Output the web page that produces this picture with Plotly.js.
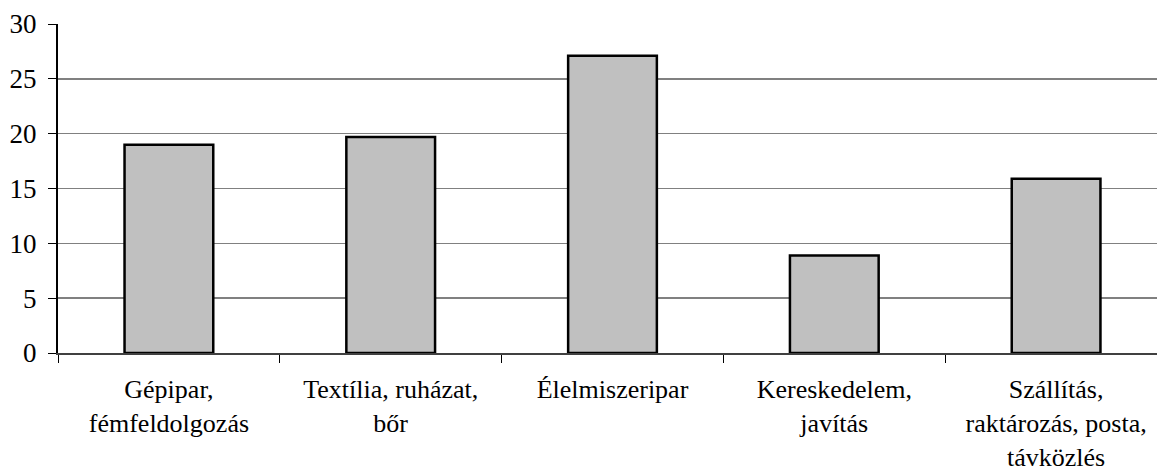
<!DOCTYPE html>
<html>
<head>
<meta charset="utf-8">
<script src="https://cdn.plot.ly/plotly-3.0.1.min.js"></script>
<style>
html, body { margin: 0; padding: 0; overflow: hidden; background: #fff; }
#chart { width: 1180px; height: 473px; }
</style>
</head>
<body>
<div id="chart"></div>
<script>
const categories = [
  "Gépipar,<br>fémfeldolgozás",
  "Textília, ruházat,<br>bőr",
  "Élelmiszeripar",
  "Kereskedelem,<br>javítás",
  "Szállítás,<br>raktározás, posta,<br>távközlés"
];
const values = [19.0, 19.7, 27.1, 8.9, 15.9];
const yTicks = [0, 5, 10, 15, 20, 25, 30];

const serif = "'Liberation Serif', 'Times New Roman', 'DejaVu Serif', serif";

const trace = {
  type: "bar",
  x: categories,
  y: values,
  marker: { color: "#c0c0c0", line: { color: "#000000", width: 2.5 } },
  hoverinfo: "x+y"
};

const layout = {
  width: 1180,
  height: 473,
  margin: { l: 58.3, r: 13.2, t: 23.5, b: 119.5, pad: 0 },
  paper_bgcolor: "#ffffff",
  plot_bgcolor: "#ffffff",
  bargap: 0.6,
  showlegend: false,
  font: { family: serif, color: "#000000", size: 26 },
  xaxis: {
    type: "category",
    showgrid: false,
    showline: true,
    linecolor: "#404040",
    linewidth: 2,
    ticks: "outside",
    tickson: "boundaries",
    ticklen: 8,
    tickwidth: 1,
    tickcolor: "#000000",
    tickfont: { size: 26, family: serif, color: "#000000" },
    ticklabelstandoff: 12,
    zeroline: false,
    fixedrange: true
  },
  yaxis: {
    range: [0, 30],
    tickvals: yTicks,
    ticktext: yTicks.map(String),
    showgrid: true,
    gridcolor: "#808080",
    gridwidth: 1.5,
    showline: true,
    linecolor: "#000000",
    linewidth: 2,
    ticks: "outside",
    ticklen: 8,
    tickwidth: 1,
    tickcolor: "#000000",
    tickfont: { size: 27, family: serif, color: "#000000" },
    ticklabelstandoff: 6,
    zeroline: false,
    fixedrange: true
  }
};

Plotly.newPlot("chart", [trace], layout, { displayModeBar: false, staticPlot: true });
</script>
</body>
</html>
